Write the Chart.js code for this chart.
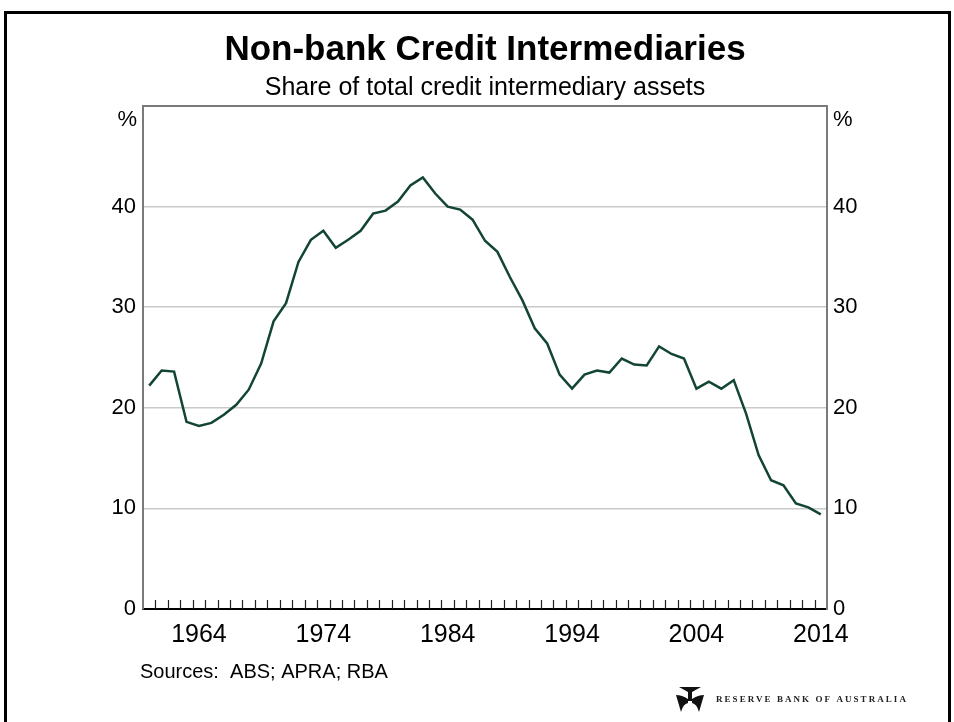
<!DOCTYPE html>
<html>
<head>
<meta charset="utf-8">
<title>Non-bank Credit Intermediaries</title>
<script src="https://cdn.jsdelivr.net/npm/chart.js@4.4.1/dist/chart.umd.min.js"></script>
<style>
    html, body { margin: 0; padding: 0; background: #fff; }
    #wrap { position: relative; width: 954px; height: 722px; overflow: hidden; }
    #frame {
        position: absolute; left: 4px; top: 11px; width: 941px; height: 800px;
        border: 3px solid #000;
    }
    #chart { position: absolute; left: 0; top: 0; }
</style>
</head>
<body>
<div id="wrap">
    <div id="frame"></div>
    <canvas id="chart" width="954" height="722"></canvas>
</div>
<script>
// Annual observations, share of total credit intermediary assets (%)
const years = [
    '1960', '1961', '1962', '1963', '1964', '1965', '1966', '1967', '1968', '1969',
    '1970', '1971', '1972', '1973', '1974', '1975', '1976', '1977', '1978', '1979',
    '1980', '1981', '1982', '1983', '1984', '1985', '1986', '1987', '1988', '1989',
    '1990', '1991', '1992', '1993', '1994', '1995', '1996', '1997', '1998', '1999',
    '2000', '2001', '2002', '2003', '2004', '2005', '2006', '2007', '2008', '2009',
    '2010', '2011', '2012', '2013', '2014'
];
const nonBankShare = [
    22.2, 23.7, 23.6, 18.6, 18.2, 18.5, 19.3, 20.3, 21.8, 24.4,
    28.6, 30.4, 34.5, 36.7, 37.6, 35.9, 36.7, 37.6, 39.3, 39.6,
    40.5, 42.1, 42.9, 41.3, 40.0, 39.7, 38.7, 36.6, 35.5, 33.0,
    30.7, 27.9, 26.4, 23.3, 21.9, 23.3, 23.7, 23.5, 24.9, 24.3,
    24.2, 26.1, 25.35, 24.9, 21.9, 22.6, 21.9, 22.75, 19.4, 15.3,
    12.8, 12.3, 10.5, 10.1, 9.4
];
const yearLabels = ['1964', '1974', '1984', '1994', '2004', '2014'];
const yTicks = [0, 10, 20, 30, 40];

const SANS = '"Liberation Sans", Arial, Helvetica, sans-serif';
const lineColour = '#124536';
const gridColour = '#c9c9c9';
const frameColour = '#7a7a7a';

// Frame, inward year ticks, % units, sources and the RBA mark
const extras = {
    id: 'extras',
    afterDraw(chart) {
        const { ctx, chartArea: a, scales } = chart;
        const x = scales.x;
        ctx.save();

        // top edge of the plot box
        ctx.strokeStyle = frameColour;
        ctx.lineWidth = 2;
        ctx.beginPath();
        ctx.moveTo(a.left, a.top);
        ctx.lineTo(a.right, a.top);
        ctx.stroke();

        // year ticks pointing up into the plot
        ctx.strokeStyle = '#222';
        ctx.lineWidth = 1.2;
        ctx.beginPath();
        for (let i = 1; i < years.length; i++) {
            const px = Math.round((x.getPixelForValue(i - 1) + x.getPixelForValue(i)) / 2) + 0.5;
            ctx.moveTo(px, a.bottom);
            ctx.lineTo(px, a.bottom - 9);
        }
        ctx.stroke();

        // unit labels
        ctx.fillStyle = '#000';
        ctx.font = '22px ' + SANS;
        ctx.textBaseline = 'middle';
        ctx.textAlign = 'right';
        ctx.fillText('%', a.left - 6, a.top + 14);
        ctx.textAlign = 'left';
        ctx.fillText('%', a.right + 6, a.top + 14);

        // sources
        ctx.font = '20px ' + SANS;
        ctx.textAlign = 'left';
        ctx.fillText('Sources:  ABS; APRA; RBA', 140, 672);

        // RBA mark
        const lx = 690, ly = 699;
        ctx.fillStyle = '#111';
        ctx.beginPath();
        ctx.moveTo(lx - 11, ly - 12);
        ctx.lineTo(lx + 11, ly - 12);
        ctx.lineTo(lx + 2, ly - 7);
        ctx.lineTo(lx + 2, ly + 2);
        ctx.lineTo(lx - 2, ly + 2);
        ctx.lineTo(lx - 2, ly - 7);
        ctx.closePath();
        ctx.fill();
        ctx.beginPath();
        ctx.moveTo(lx - 2, ly);
        ctx.quadraticCurveTo(lx - 8, ly - 4, lx - 14, ly - 4);
        ctx.lineTo(lx - 9, ly + 13);
        ctx.quadraticCurveTo(lx - 7, ly + 5, lx - 2, ly + 4);
        ctx.closePath();
        ctx.fill();
        ctx.beginPath();
        ctx.moveTo(lx + 2, ly);
        ctx.quadraticCurveTo(lx + 8, ly - 4, lx + 14, ly - 4);
        ctx.lineTo(lx + 9, ly + 13);
        ctx.quadraticCurveTo(lx + 7, ly + 5, lx + 2, ly + 4);
        ctx.closePath();
        ctx.fill();

        ctx.font = 'bold 9px "Liberation Serif", "Times New Roman", serif';
        ctx.textBaseline = 'alphabetic';
        const mark = 'RESERVE BANK OF AUSTRALIA';
        const w = ctx.measureText(mark).width;
        ctx.letterSpacing = ((190 - w) / (mark.length - 1)).toFixed(2) + 'px';
        ctx.fillStyle = '#222';
        ctx.fillText(mark, 716, 702);

        ctx.restore();
    }
};

new Chart(document.getElementById('chart'), {
    type: 'line',
    data: {
        labels: years,
        datasets: [{
            label: 'Non-bank credit intermediaries',
            data: nonBankShare,
            borderColor: lineColour,
            borderWidth: 2.5,
            pointRadius: 0,
            tension: 0,
            fill: false,
            yAxisID: 'y'
        }]
    },
    options: {
        responsive: false,
        animation: false,
        devicePixelRatio: 1,
        layout: { padding: 0 },
        plugins: {
            legend: { display: false },
            tooltip: { enabled: false },
            title: {
                display: true,
                text: 'Non-bank Credit Intermediaries',
                color: '#000',
                fullSize: false,
                font: { family: SANS, size: 35, weight: 'bold', lineHeight: 1.2 },
                padding: { top: 29, bottom: 2 }
            },
            subtitle: {
                display: true,
                text: 'Share of total credit intermediary assets',
                color: '#000',
                fullSize: false,
                font: { family: SANS, size: 25, lineHeight: 1.2 },
                padding: { top: 0, bottom: 3 }
            }
        },
        scales: {
            x: {
                type: 'category',
                offset: true,
                grid: { display: false, drawTicks: false },
                border: { display: true, color: '#000', width: 2 },
                ticks: {
                    color: '#000',
                    font: { family: SANS, size: 25 },
                    padding: 11,
                    maxRotation: 0,
                    autoSkip: false,
                    callback(v) {
                        const lab = this.getLabelForValue(v);
                        return yearLabels.includes(lab) ? lab : '';
                    }
                },
                afterFit(scale) { scale.height = 113; }
            },
            y: {
                position: 'left',
                min: 0,
                max: 50,
                grid: {
                    drawTicks: false,
                    lineWidth: 1.5,
                    color(c) {
                        const v = c.tick && c.tick.value;
                        return yTicks.includes(v) && v > 0 ? gridColour : 'rgba(0,0,0,0)';
                    }
                },
                border: { display: true, color: frameColour, width: 2 },
                ticks: {
                    stepSize: 10,
                    color: '#000',
                    padding: 7,
                    font: { family: SANS, size: 22 },
                    callback(v) { return yTicks.includes(v) ? String(v) : ''; }
                },
                afterFit(scale) { scale.width = 143; }
            },
            y2: {
                position: 'right',
                min: 0,
                max: 50,
                grid: { drawOnChartArea: false, drawTicks: false },
                border: { display: true, color: frameColour, width: 2 },
                ticks: {
                    stepSize: 10,
                    color: '#000',
                    padding: 6,
                    font: { family: SANS, size: 22 },
                    callback(v) { return yTicks.includes(v) ? String(v) : ''; }
                },
                afterFit(scale) { scale.width = 127; }
            }
        }
    },
    plugins: [extras]
});
</script>
</body>
</html>
